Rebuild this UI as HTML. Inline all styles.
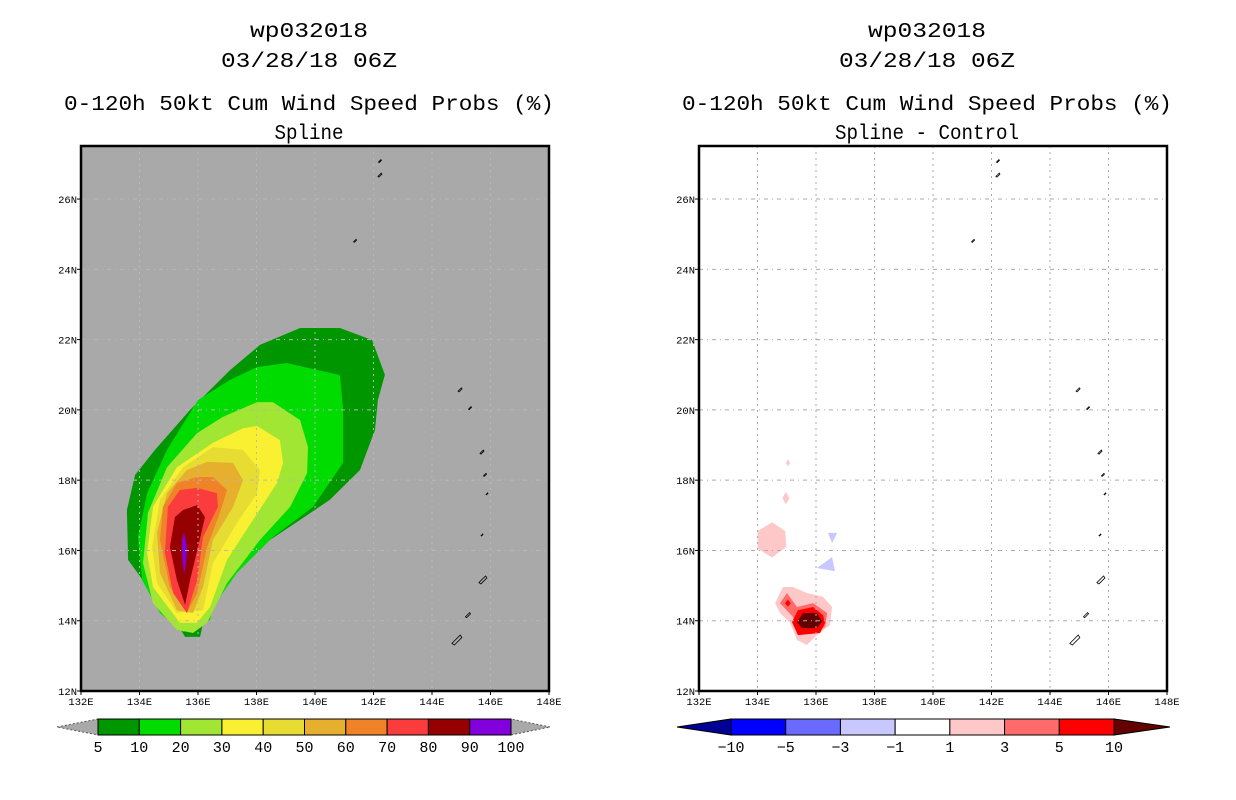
<!DOCTYPE html>
<html><head><meta charset="utf-8"><style>
html,body{margin:0;padding:0;background:#fff;width:1236px;height:800px;overflow:hidden}
svg text{font-family:"Liberation Mono","DejaVu Sans Mono",monospace}
</style></head><body>
<svg id="fig" width="1236" height="800" xmlns="http://www.w3.org/2000/svg"></svg>
<script>
// ---- data ----
const lonTicks=[132,134,136,138,140,142,144,146,148];
const latTicks=[12,14,16,18,20,22,24,26];
const probLevels=[5,10,20,30,40,50,60,70,80,90,100];
const probColors=["#009600","#00dc00","#a0e632","#faf032","#e6dc32","#e6af2d","#f08228","#fa3c3c","#960000","#8200dc"];
const diffLevels=[-10,-5,-3,-1,1,3,5,10];
const diffColors=["#000096","#0000ff","#6a6aff","#c8c8ff","#ffffff","#ffc8c8","#ff6a6a","#ff0000","#640000"];
const p5=[[135.56,13.54],[135.21,14.02],[134.36,14.87],[133.61,15.73],[133.57,17.15],[133.85,18.15],[134.53,18.86],[135.73,20.0],[137.09,21.13],[138.12,21.85],[139.49,22.33],[140.85,22.33],[141.95,21.99],[142.39,21.0],[142.15,20.28],[142.05,19.43],[141.54,18.29],[140.51,17.44],[139.49,16.87],[138.46,16.3],[137.44,15.59],[136.58,14.87],[136.24,14.16],[136.07,13.54]];
const p10=[[135.49,13.68],[134.70,14.22],[134.09,15.16],[133.95,16.38],[134.26,17.63],[134.94,18.86],[136.0,20.28],[137.09,20.85],[138.02,21.22],[139.04,21.33],[140.85,20.99],[140.96,20.0],[140.96,18.49],[139.93,17.24],[138.56,16.38],[137.33,15.36],[136.51,14.39],[136.41,14.02]];
const p20=[[138.02,20.22],[138.56,20.22],[139.49,19.71],[139.76,18.94],[139.73,18.2],[139.15,17.24],[138.12,16.3],[136.99,15.07],[136.31,13.94],[135.83,13.65],[135.28,13.74],[134.46,14.5],[134.12,15.64],[134.29,17.07],[134.94,18.37],[135.97,19.34],[136.85,19.8]];
const p30=[[138.02,19.54],[138.8,19.14],[138.91,18.49],[138.7,17.92],[137.88,16.87],[136.99,15.73],[136.41,14.39],[135.97,13.94],[135.38,13.94],[134.46,14.96],[134.26,15.93],[134.46,17.24],[135.28,18.37],[136.51,19.06],[137.54,19.48]];
const p40=[[136.51,18.94],[137.54,18.86],[138.12,18.29],[138.02,17.63],[137.33,16.78],[136.51,15.64],[136.17,14.3],[135.28,14.22],[134.6,15.07],[134.43,16.1],[134.7,17.44],[135.49,18.37]];
const p50=[[136.31,18.52],[137.2,18.49],[137.54,18.0],[137.2,17.24],[136.51,16.3],[136.17,14.96],[135.83,14.22],[135.28,14.3],[134.7,15.36],[134.6,16.5],[134.94,17.63],[135.62,18.29]];
const p60=[[135.97,18.09],[136.51,18.09],[136.99,17.72],[136.75,17.07],[136.31,16.1],[135.97,14.79],[135.62,14.22],[135.04,14.96],[134.7,16.3],[134.8,17.24],[135.28,17.92]];
const p70=[[135.38,17.72],[135.97,17.78],[136.65,17.63],[136.68,17.24],[136.17,16.38],[135.97,15.16],[135.62,14.22],[135.15,14.79],[134.87,15.93],[134.97,17.24]];
const p80=[[135.97,17.29],[136.24,16.95],[136.0,16.1],[135.73,15.16],[135.56,14.45],[135.28,15.16],[135.04,16.1],[135.21,16.95],[135.49,17.15]];
const p90=[[135.52,16.52],[135.62,16.1],[135.59,15.64],[135.52,15.3],[135.45,15.93],[135.45,16.3]];
const probPolys=[p5,p10,p20,p30,p40,p50,p60,p70,p80,p90];
const dPinkTiny=[[135.04,18.59],[135.11,18.49],[135.04,18.39],[134.97,18.49]];
const dPinkDiamond=[[134.97,17.67],[135.09,17.49],[134.97,17.31],[134.85,17.49]];
const dPinkHex=[[134.5,16.8],[134.95,16.55],[134.98,16.1],[134.5,15.8],[134.0,16.05],[134.0,16.55]];
const dBlue1=[[136.41,16.5],[136.72,16.5],[136.55,16.21]];
const dBlue2=[[136.03,15.5],[136.55,15.81],[136.65,15.41]];
const dRed1=[[134.6,14.5],[134.87,14.96],[135.21,14.96],[135.69,14.79],[136.24,14.68],[136.55,14.39],[136.48,13.88],[136.03,13.59],[135.69,13.31],[135.35,13.45],[135.11,13.94],[134.77,14.22]];
const dRed3=[[134.77,14.5],[135.01,14.79],[135.35,14.39],[135.9,14.5],[136.38,14.22],[136.31,13.82],[135.97,13.68],[135.45,13.68],[135.21,14.11]];
const dRed5=[[135.18,13.96],[135.38,14.3],[135.9,14.39],[136.24,14.16],[136.31,13.94],[136.14,13.65],[135.38,13.59]];
const dRed10=[[135.35,13.96],[135.56,14.22],[136.03,14.22],[136.21,13.99],[136.03,13.79],[135.52,13.79]];
const dRedDot=[[135.04,14.6],[135.14,14.5],[135.04,14.4],[134.94,14.5]];
const diffPolys=[dPinkTiny,dPinkDiamond,dPinkHex,dBlue1,dBlue2,dRed1,dRed3,dRed5,dRed10,dRedDot];
const diffPolyColor=[5,5,5,3,3,5,6,7,8,7];
const islandLon=[142.22,142.22,141.37,144.96,145.3,145.71,145.81,145.88,145.71,145.74,145.23,144.85];
const islandLat=[27.08,26.68,24.81,20.57,20.05,18.8,18.15,17.61,16.44,15.16,14.16,13.45];
const islandSize=[3,4,3,4,3,4,3,2,2,8,5,10];

// ---- drawing ----
const NS="http://www.w3.org/2000/svg";
const svg=document.getElementById('fig');
function mk(tag,attrs,parent){const e=document.createElementNS(NS,tag);for(const k in attrs)e.setAttribute(k,attrs[k]);(parent||svg).appendChild(e);return e;}
function txt(s,x,y,size,anchor,parent,name){const t=mk('text',{x:x,y:y,'font-size':size,'text-anchor':anchor||'middle',fill:'#000'},parent);t.textContent=s;return t;}
const PW=468,PH=545,TOP=146;
const lonMin=132,lonMax=148,latMin=12,latMax=12+545/35.14;
function panel(x0,bg,titles,polys,cols,nm,gc){
  const g=mk('g',{});
  
  
  const X=lon=>x0+(lon-lonMin)/(lonMax-lonMin)*PW;
  const Y=lat=>TOP+PH-(lat-latMin)/(latMax-latMin)*PH;
  const ys=[37,67,110,139];
  const tl=[118,176,490,0];
  titles.forEach((s,i)=>{
    const t=txt(s,x0+PW/2-6,ys[i],21,'middle',g,'title-line-'+(i+1));
    const L=i==3?s.length*11.5:tl[i];
    t.setAttribute('textLength',L);t.setAttribute('lengthAdjust','spacingAndGlyphs');
  });
  const r=mk('rect',{x:x0,y:TOP,width:PW,height:PH,fill:bg},g);
  
  polys.forEach((p,i)=>{
    const pe=mk('polygon',{points:p.map(q=>X(q[0]).toFixed(1)+','+Y(q[1]).toFixed(1)).join(' '),fill:cols[i]},g);
    
  });
  lonTicks.slice(1,-1).forEach(l=>{const e=mk('line',{x1:X(l),x2:X(l),y1:TOP,y2:TOP+PH,stroke:gc,'stroke-width':1,'stroke-dasharray':'2,4'},g);});
  latTicks.slice(1).forEach(l=>{const e=mk('line',{x1:x0,x2:x0+PW,y1:Y(l),y2:Y(l),stroke:gc,'stroke-width':1,'stroke-dasharray':'4,4,1,4'},g);});
  islandLon.forEach((lo,i)=>{
    const s=islandSize[i],cx=X(lo),cy=Y(islandLat[i]);
    const e=mk('path',{d:`M${cx+s/3},${cy-s/2} L${cx+s/2},${cy-s/4} L${cx-s/4},${cy+s/2} L${cx-s/2},${cy+s/3} Z`,fill:'none',stroke:'#000','stroke-width':0.8},g);
    
  });
  const f=mk('rect',{x:x0,y:TOP,width:PW,height:PH,fill:'none',stroke:'#000','stroke-width':2.5},g);
  
  lonTicks.forEach(l=>{mk('line',{x1:X(l),x2:X(l),y1:TOP+PH,y2:TOP+PH+4,stroke:'#000'},g);txt(l+'E',X(l),TOP+PH+14,10.5,'middle',g,'x-tick-label');});
  latTicks.forEach(l=>{mk('line',{x1:x0-4,x2:x0,y1:Y(l),y2:Y(l),stroke:'#000'},g);txt(l+'N',x0-4,Y(l)+4,10.5,'end',g,'y-tick-label');});
}
panel(81,'#a9a9a9',['wp032018','03/28/18 06Z','0-120h 50kt Cum Wind Speed Probs (%)','Spline'],probPolys,probColors,'left-panel-probs','#b8b8b8');
panel(699,'#ffffff',['wp032018','03/28/18 06Z','0-120h 50kt Cum Wind Speed Probs (%)','Spline - Control'],diffPolys,diffPolyColor.map(i=>diffColors[i]),'right-panel-diff','#aaaaaa');

function colorbar(x0,x1,tipL,tipR,cols,labels,triL,triR,triStroke,nm){
  const g=mk('g',{});
  const y0=719,y1=735,ym=727;
  const w=(x1-x0)/cols.length;
  const tl=mk('polygon',{points:`${tipL},${ym} ${x0},${y0} ${x0},${y1}`,fill:triL,stroke:triStroke,'stroke-dasharray':triStroke=='#000'?'none':'2,2'},g);
  
  const tr=mk('polygon',{points:`${tipR},${ym} ${x1},${y0} ${x1},${y1}`,fill:triR,stroke:triStroke,'stroke-dasharray':triStroke=='#000'?'none':'2,2'},g);
  
  cols.forEach((c,i)=>{const r=mk('rect',{x:x0+i*w,y:y0,width:w,height:y1-y0,fill:c,stroke:'#000','stroke-width':1},g);});
  labels.forEach((l,i)=>txt(String(l).replace('-','\u2212'),x0+i*w,752,15,'middle',g,'colorbar-label'));
}
colorbar(98,511,57,550,probColors,probLevels,'#a9a9a9','#a9a9a9','#555','prob-colorbar');
colorbar(731,1114,677,1170,diffColors.slice(1,-1),diffLevels,diffColors[0],diffColors[diffColors.length-1],'#000','diff-colorbar');
</script>
</body></html>
